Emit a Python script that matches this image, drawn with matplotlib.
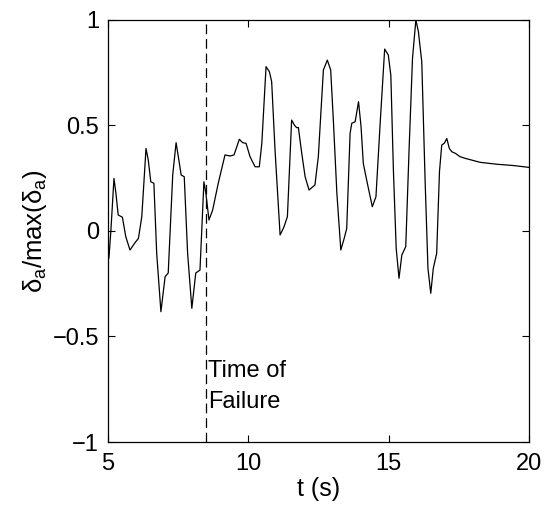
import matplotlib
matplotlib.use('Agg')
import matplotlib.pyplot as plt

plt.rcParams['font.family'] = ['Liberation Sans', 'DejaVu Sans']
plt.rcParams['mathtext.fontset'] = 'custom'
plt.rcParams['mathtext.rm'] = 'Liberation Sans'
plt.rcParams['mathtext.it'] = 'Liberation Sans'
plt.rcParams['lines.scale_dashes'] = False

# aileron deflection, normalised
t = [5.0, 5.05, 5.12, 5.23, 5.30, 5.38, 5.53, 5.65, 5.80, 5.98, 6.10, 6.22,
     6.37, 6.45, 6.54, 6.65, 6.75, 6.90, 7.05, 7.16, 7.32, 7.44, 7.52, 7.62,
     7.73, 7.85, 8.0, 8.14, 8.29, 8.43, 8.50, 8.61, 8.74, 8.94, 9.18, 9.36,
     9.50, 9.69, 9.81, 9.93, 10.07, 10.25, 10.40, 10.49, 10.64, 10.76, 10.84,
     10.96, 11.14, 11.28, 11.40, 11.55, 11.65, 11.73, 11.79, 11.91, 12.03,
     12.17, 12.38, 12.50, 12.68, 12.82, 12.94, 13.04, 13.16, 13.30, 13.42,
     13.51, 13.63, 13.69, 13.81, 13.93, 14.02, 14.10, 14.22, 14.42, 14.55,
     14.70, 14.86, 14.99, 15.08, 15.17, 15.27, 15.37, 15.47, 15.61, 15.73,
     15.85, 15.97, 16.06, 16.18, 16.30, 16.40, 16.50, 16.59, 16.71, 16.81,
     16.89, 16.98, 17.07, 17.16, 17.25, 17.37, 17.54, 17.72, 18.26, 18.85,
     19.43, 20.0]
da = [-0.13, -0.13, 0.0, 0.248, 0.177, 0.075, 0.064, -0.028, -0.091, -0.056,
      -0.036, 0.067, 0.39, 0.335, 0.232, 0.225, -0.107, -0.383, -0.217, -0.20,
      0.264, 0.417, 0.351, 0.264, 0.256, -0.107, -0.367, -0.20, -0.186, 0.232,
      0.177, 0.051, 0.098, 0.225, 0.359, 0.354, 0.359, 0.433, 0.417, 0.414,
      0.351, 0.303, 0.303, 0.414, 0.777, 0.753, 0.706, 0.382, -0.02, 0.019,
      0.067, 0.524, 0.50, 0.488, 0.489, 0.367, 0.256, 0.193, 0.217, 0.351,
      0.761, 0.808, 0.761, 0.509, 0.177, -0.091, -0.036, 0.011, 0.461, 0.509,
      0.516, 0.611, 0.493, 0.319, 0.24, 0.114, 0.161, 0.509, 0.86, 0.832,
      0.735, 0.29, -0.083, -0.225, -0.115, -0.075, 0.39, 0.816, 0.998, 0.943,
      0.80, 0.232, -0.178, -0.296, -0.178, -0.107, 0.28, 0.406, 0.414, 0.437,
      0.39, 0.374, 0.367, 0.351, 0.343, 0.324, 0.315, 0.309, 0.30]

t_fail = 8.5
yticks = [-1, -0.5, 0, 0.5, 1]
ytick_labels = ['\u22121', '\u22120.5', '0', '0.5', '1']
xticks = [5, 10, 15, 20]

fig = plt.figure(figsize=(5.57, 5.14), dpi=100)
ax = fig.add_axes([0.193, 0.140, 0.757, 0.822])

ax.plot(t, da, color='black', lw=0.9)
ax.plot([t_fail, t_fail], [-1, 1], color='black', lw=0.9, dashes=(7, 3.5))

ax.text(t_fail + 0.08, -0.693, 'Time of', fontsize=17, ha='left', va='baseline')
ax.text(t_fail + 0.08, -0.84, 'Failure', fontsize=17, ha='left', va='baseline')

ax.set_xlim(5, 20)
ax.set_ylim(-1, 1)
ax.set_xticks(xticks)
ax.set_yticks(yticks)
ax.set_yticklabels(ytick_labels)
ax.tick_params(direction='in', top=True, right=True, length=5, width=0.8,
               labelsize=17)
ax.tick_params(axis='x', pad=8)
ax.tick_params(axis='y', pad=6)
for s in ax.spines.values():
    s.set_linewidth(0.9)

ax.set_xlabel('t (s)', fontsize=18, labelpad=1)
ax.set_ylabel(r'$\delta_\mathrm{a}/\mathrm{max}(\delta_\mathrm{a})$', fontsize=18.5,
              labelpad=3)

fig.savefig('out.png', dpi=100)
